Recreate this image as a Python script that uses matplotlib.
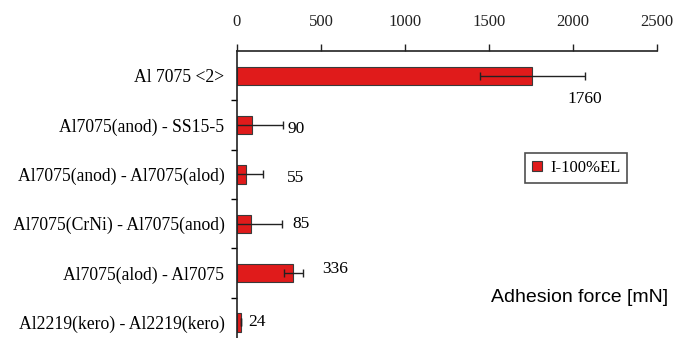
import matplotlib

matplotlib.use("Agg")

import matplotlib.pyplot as plt
import numpy as np

categories = [
    "Al 7075 <2>",
    "Al7075(anod) - SS15-5",
    "Al7075(anod) - Al7075(alod)",
    "Al7075(CrNi) - Al7075(anod)",
    "Al7075(alod) - Al7075",
    "Al2219(kero) - Al2219(kero)",
]
values = [1760, 90, 55, 85, 336, 24]
errors = [310, 185, 100, 183, 57, 0]
value_labels = ["1760", "90", "55", "85", "336", "24"]
x_ticks = [0, 500, 1000, 1500, 2000, 2500]
series_name = "I-100%EL"

plt.rcParams["font.family"] = ["Liberation Serif", "DejaVu Serif"]

fig = plt.figure(figsize=(6.75, 3.38), dpi=100)
ax = fig.add_axes([0.351, -0.027, 0.622, 0.876])

pos = np.arange(len(categories))
ax.barh(
    pos, values, height=0.37, color="#e01b1b", edgecolor="#3a3a3a",
    linewidth=0.8, label=series_name,
)
ax.errorbar(
    values, pos, xerr=errors, fmt="none", ecolor="#222222",
    elinewidth=1.0, capsize=3, capthick=1.0,
)

# where the value labels sit (x in data units, y shift in category units)
label_x = [1970, 304, 298, 333, 506, 65]
label_dy = [0.47, 0.07, 0.08, 0.0, -0.08, 0.0]
for i, lab in enumerate(value_labels):
    ax.text(label_x[i], i + label_dy[i], lab, fontsize=12.5, va="center", ha="left")

ax.set_xlim(0, 2500)
ax.set_ylim(len(categories) - 0.5, -0.5)
ax.xaxis.tick_top()
ax.set_xticks(x_ticks)
ax.set_xticklabels([str(t) for t in x_ticks], fontsize=12)
ax.tick_params(axis="x", direction="out", length=5, width=1, pad=10, colors="#222222")

ax.set_yticks(pos)
ax.set_yticklabels(categories, fontsize=12.7)
ax.tick_params(axis="y", which="major", length=0, pad=9)
ax.set_yticks(np.arange(0.5, len(categories) - 0.5, 1), minor=True)
ax.tick_params(axis="y", which="minor", direction="out", length=4, width=1)

for s in ["right", "bottom"]:
    ax.spines[s].set_visible(False)
for s in ["top", "left"]:
    ax.spines[s].set_linewidth(1.2)
    ax.spines[s].set_color("#222222")

leg = ax.legend(
    loc="upper left", bbox_to_anchor=(0.686, 0.655), borderaxespad=0,
    fontsize=12, frameon=True, fancybox=False, edgecolor="#222222",
    handlelength=0.6, handleheight=0.6, handletextpad=0.5, borderpad=0.4,
)
leg.get_frame().set_linewidth(1.2)

fig.text(0.99, 0.12, "Adhesion force [mN]", fontsize=14, ha="right", va="center",
         family=["Liberation Sans", "DejaVu Sans"])

fig.savefig("out.png", dpi=100)
